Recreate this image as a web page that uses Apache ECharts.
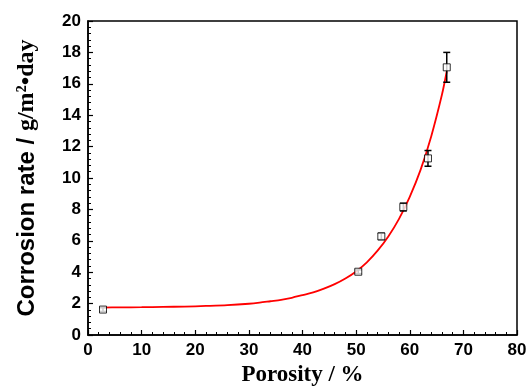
<!DOCTYPE html>
<html>
<head>
<meta charset="utf-8">
<script src="https://cdn.jsdelivr.net/npm/echarts@6/dist/echarts.min.js"></script>
<style>
  html, body { margin: 0; padding: 0; background: #fff; }
  #chart { width: 527px; height: 389px; }
</style>
</head>
<body>
<div id="chart"></div>
<script>
// measured points (porosity %, corrosion rate, error)
const porosity = [2.8, 50.4, 54.7, 58.8, 63.4, 66.9];
const rate = [1.62, 4.03, 6.28, 8.15, 11.25, 17.05];
const rateErr = [0.12, 0.12, 0.2, 0.25, 0.5, 0.95];

// fitted curve
const fitX = [2.5, 6, 10, 14, 18, 22, 26, 30, 32, 34, 36, 38, 40, 42, 44, 46, 48, 50, 52, 54, 56, 58, 60, 62, 64, 66, 66.9];
const fitY = [1.75, 1.76, 1.77, 1.79, 1.81, 1.85, 1.9, 1.99, 2.06, 2.15, 2.24, 2.37, 2.54, 2.71, 2.95, 3.24, 3.6, 4.05, 4.63, 5.37, 6.28, 7.4, 8.8, 10.5, 12.65, 15.3, 16.8];

const chart = echarts.init(document.getElementById('chart'));

const sans = '"Liberation Sans", Arial, sans-serif';
const serif = '"Liberation Serif", "Times New Roman", serif';

const axisCommon = {
  axisLine: { lineStyle: { color: '#000', width: 1.5 } },
  axisTick: { inside: true, length: 5, lineStyle: { color: '#000', width: 1.2 } },
  minorTick: { show: true, splitNumber: 5, length: 3, lineStyle: { color: '#000', width: 1 } },
  splitLine: { show: false },
  axisLabel: { color: '#000', fontFamily: sans, fontWeight: 'bold', fontSize: 17, margin: 7 },
};

const option = {
  animation: false,
  backgroundColor: '#fff',
  grid: {
    left: 88, top: 21, right: 10, bottom: 54,
    outerBoundsMode: 'none',
    containLabel: false,
    show: true, borderColor: '#000', borderWidth: 1.5
  },
  xAxis: {
    type: 'value', min: 0, max: 80, interval: 10,
    ...axisCommon,
    name: 'Porosity / %',
    nameLocation: 'middle',
    nameGap: 29,
    nameTextStyle: { color: '#000', fontFamily: serif, fontWeight: 'bold', fontSize: 23 }
  },
  yAxis: {
    type: 'value', min: 0, max: 20, interval: 2,
    ...axisCommon,
    name: '{a|Corrosion rate / }{b|g/m²•day}',
    nameLocation: 'middle',
    nameGap: 49,
    nameRotate: 90,
    nameTextStyle: {
      color: '#000',
      rich: {
        a: { fontFamily: sans, fontWeight: 'bold', fontSize: 24, color: '#000' },
        b: { fontFamily: serif, fontWeight: 'bold', fontSize: 24, color: '#000' }
      }
    }
  },
  series: [
    {
      name: 'fit',
      type: 'line',
      data: fitX.map((x, i) => [x, fitY[i]]),
      smooth: 0.3,
      showSymbol: false,
      lineStyle: { color: '#ff0000', width: 1.8 },
      z: 2
    },
    {
      name: 'error',
      type: 'custom',
      data: porosity.map((x, i) => [x, rate[i] - rateErr[i], rate[i] + rateErr[i]]),
      renderItem: (params, api) => {
        const lo = api.coord([api.value(0), api.value(1)]);
        const hi = api.coord([api.value(0), api.value(2)]);
        const w = 3.5;
        const style = { stroke: '#000', lineWidth: 1.5 };
        return {
          type: 'group',
          children: [
            { type: 'line', shape: { x1: lo[0], y1: lo[1], x2: hi[0], y2: hi[1] }, style },
            { type: 'line', shape: { x1: lo[0] - w, y1: lo[1], x2: lo[0] + w, y2: lo[1] }, style },
            { type: 'line', shape: { x1: hi[0] - w, y1: hi[1], x2: hi[0] + w, y2: hi[1] }, style }
          ]
        };
      },
      z: 3
    },
    {
      name: 'data',
      type: 'scatter',
      data: porosity.map((x, i) => [x, rate[i]]),
      symbol: 'rect',
      symbolSize: 7,
      itemStyle: { color: '#fff', borderColor: '#000', borderWidth: 1 },
      z: 4
    }
  ]
};

chart.setOption(option);
</script>
</body>
</html>
